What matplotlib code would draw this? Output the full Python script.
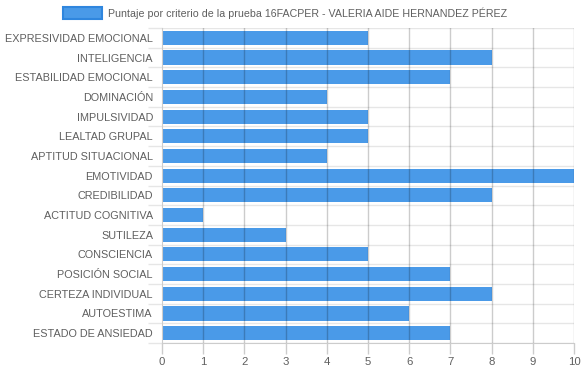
import numpy as np
import matplotlib.pyplot as plt

plt.rcParams["font.family"] = ["Liberation Sans", "DejaVu Sans"]

# ------------------------
# Data
# ------------------------
categories = [
    "EXPRESIVIDAD EMOCIONAL",
    "INTELIGENCIA",
    "ESTABILIDAD EMOCIONAL",
    "DOMINACIÓN",
    "IMPULSIVIDAD",
    "LEALTAD GRUPAL",
    "APTITUD SITUACIONAL",
    "EMOTIVIDAD",
    "CREDIBILIDAD",
    "ACTITUD COGNITIVA",
    "SUTILEZA",
    "CONSCIENCIA",
    "POSICIÓN SOCIAL",
    "CERTEZA INDIVIDUAL",
    "AUTOESTIMA",
    "ESTADO DE ANSIEDAD",
]
scores = [5, 8, 7, 4, 5, 5, 4, 10, 8, 1, 3, 5, 7, 8, 6, 7]
x_ticks = list(range(0, 11))
series_label = "Puntaje por criterio de la prueba 16FACPER - VALERIA AIDE HERNANDEZ PÉREZ"

bar_color = "#4a9ae8"
edge_color = "#2f86de"
text_color = "#5f5f5f"

fig = plt.figure(figsize=(5.83, 3.68), dpi=100)
ax = fig.add_axes([162 / 583, 1 - 343 / 368, (574 - 162) / 583, (343 - 28) / 368])

y = np.arange(len(categories))
ax.barh(y, scores, height=0.72, color=bar_color, zorder=2)

ax.set_xlim(0, 10)
ax.set_ylim(len(categories) - 0.5, -0.5)

# vertical grid drawn over bars
for t in x_ticks[1:]:
    ax.axvline(t, color="#000000", alpha=0.2, linewidth=1, zorder=3)

# horizontal grid between categories
for b in np.arange(-0.5, len(categories), 1.0):
    ax.axhline(b, color="#e6e6e6", linewidth=1, zorder=1)

ax.set_xticks(x_ticks)
ax.set_xticklabels([str(t) for t in x_ticks])
ax.set_yticks(y)
ax.set_yticklabels(categories)
ax.set_yticks(np.arange(-0.5, len(categories), 1.0), minor=True)

ax.tick_params(axis="x", length=8, width=1, color="#cccccc", labelsize=8.2,
               labelcolor=text_color, pad=2)
ax.tick_params(axis="y", which="major", length=0, labelsize=7.8,
               labelcolor=text_color, pad=6.5)
ax.tick_params(axis="y", which="minor", length=10, width=1, color="#e6e6e6")

for side in ["top", "right"]:
    ax.spines[side].set_visible(False)
ax.spines["left"].set_color("#cccccc")
ax.spines["bottom"].set_color("#cccccc")

# legend
fig.patches.append(plt.Rectangle((63 / 583, 1 - 19 / 368), 39 / 583, 12 / 368,
                                 transform=fig.transFigure, facecolor=bar_color,
                                 edgecolor=edge_color, linewidth=1.5))
fig.text(108 / 583, 1 - 13 / 368, series_label, fontsize=7.7, color=text_color,
         ha="left", va="center")

fig.savefig("out.png", dpi=100)
